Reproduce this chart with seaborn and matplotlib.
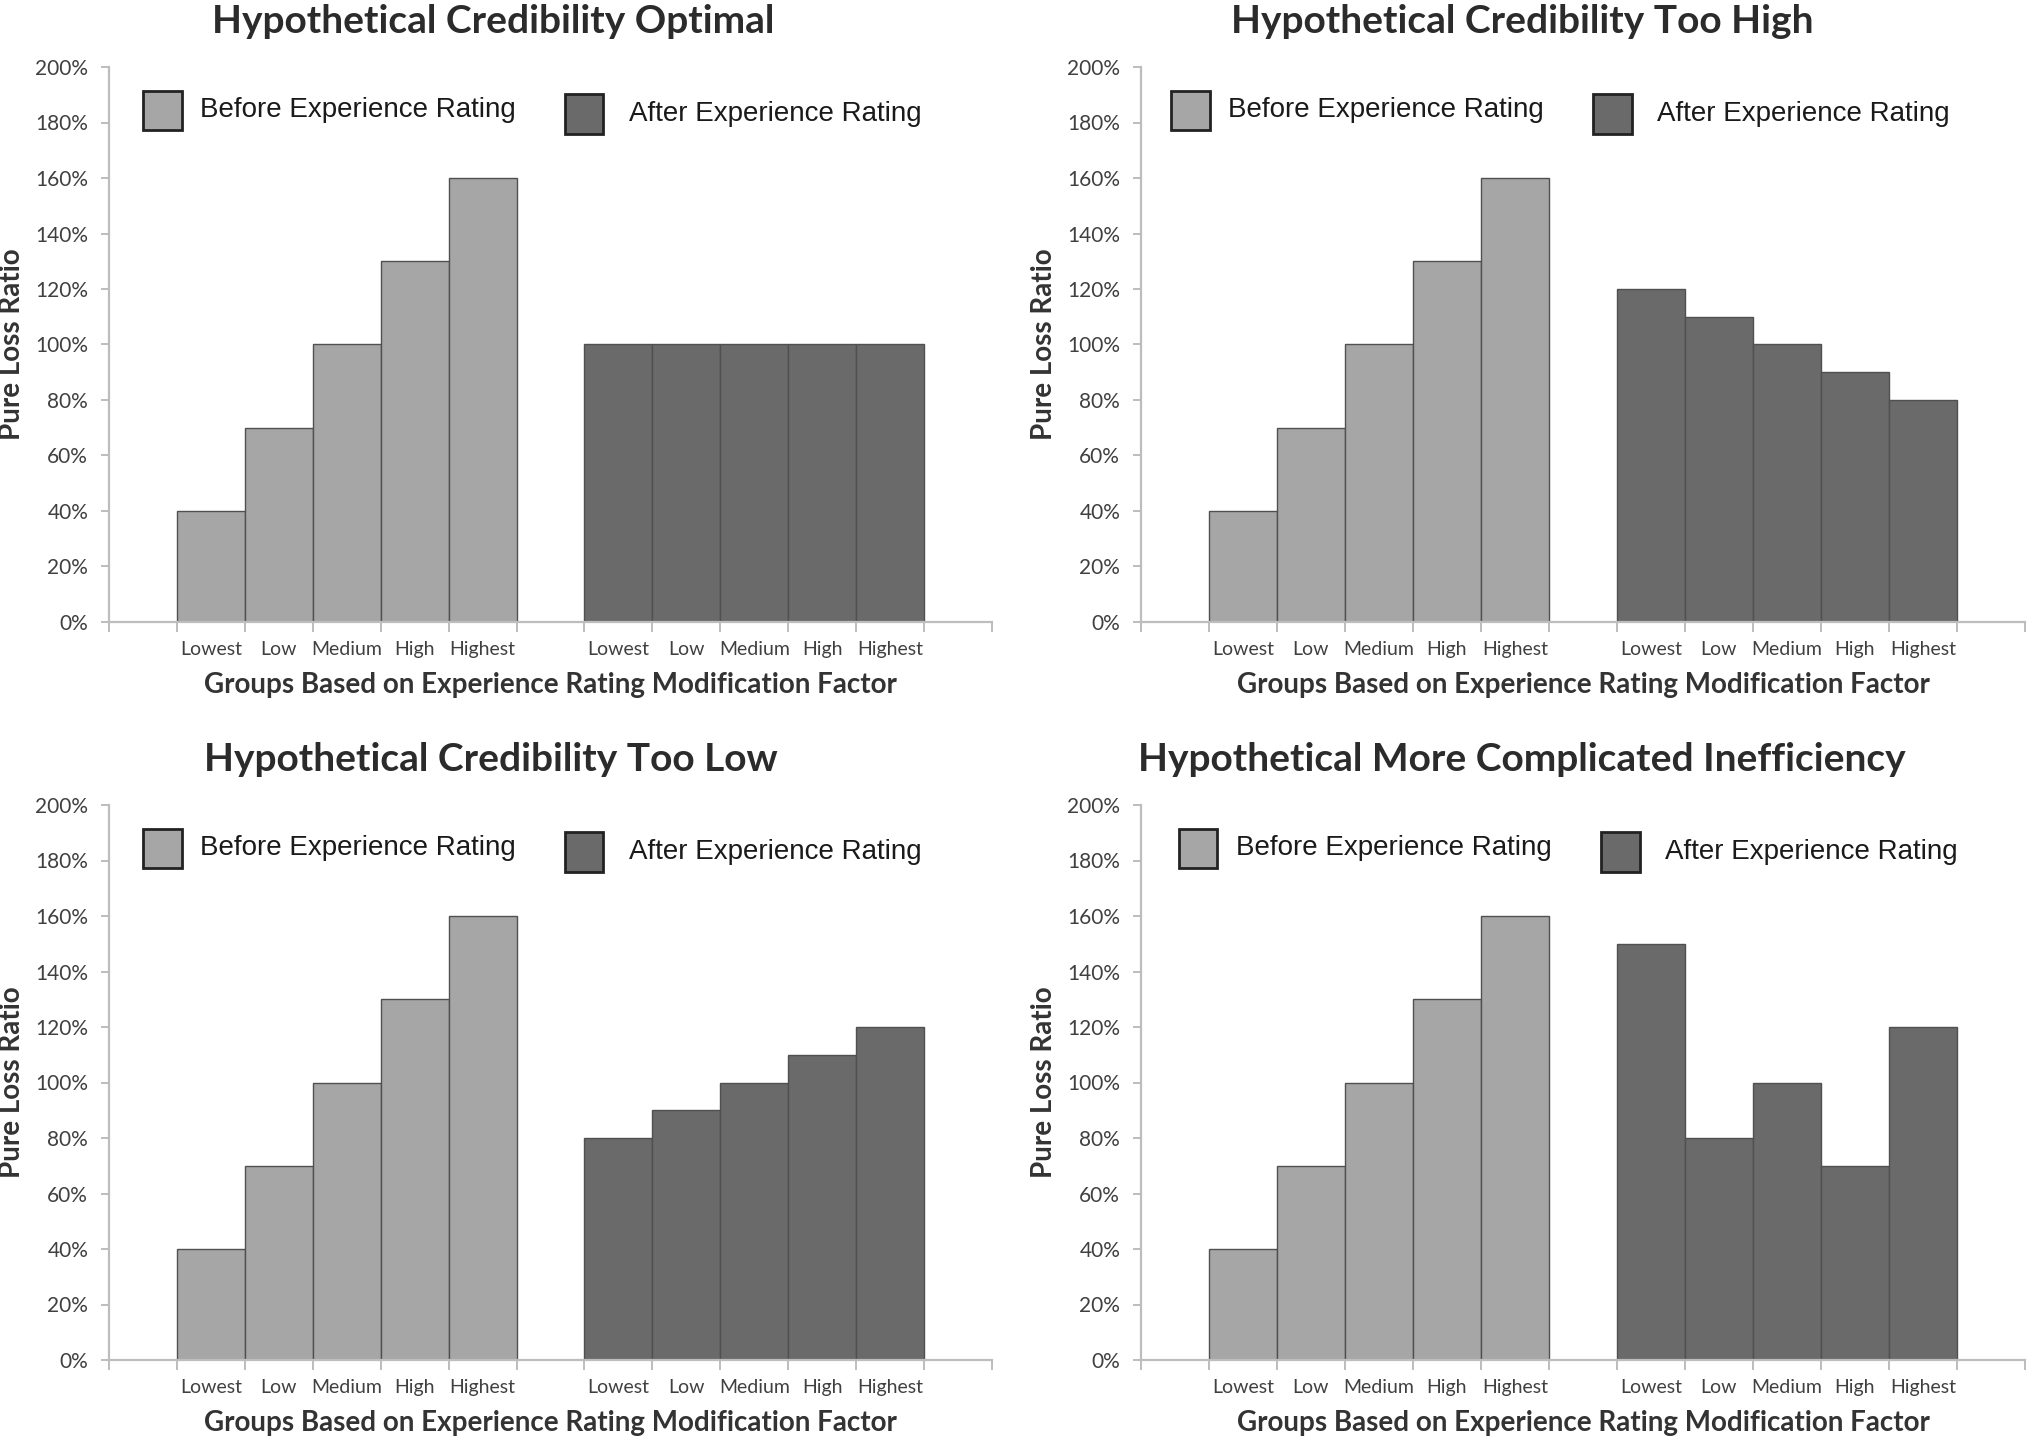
import matplotlib
matplotlib.use("Agg")
import matplotlib.pyplot as plt
import seaborn as sns
import pandas as pd
import numpy as np
from matplotlib.patches import Rectangle
from matplotlib.ticker import FuncFormatter, FixedLocator

# ---------------- data ----------------
groups = ["Lowest", "Low", "Medium", "High", "Highest"]
before_pos = [1, 2, 3, 4, 5]
after_pos = [7, 8, 9, 10, 11]
before_vals = [0.40, 0.70, 1.00, 1.30, 1.60]
after_optimal = [1.00, 1.00, 1.00, 1.00, 1.00]
after_too_high = [1.20, 1.10, 1.00, 0.90, 0.80]
after_too_low = [0.80, 0.90, 1.00, 1.10, 1.20]
after_complicated = [1.50, 0.80, 1.00, 0.70, 1.20]
titles = ["Hypothetical Credibility Optimal", "Hypothetical Credibility Too High",
          "Hypothetical Credibility Too Low", "Hypothetical More Complicated Inefficiency"]
series_after = [after_optimal, after_too_high, after_too_low, after_complicated]
stages = ["Before Experience Rating", "After Experience Rating"]
y_ticks = [0, 0.2, 0.4, 0.6, 0.8, 1.0, 1.2, 1.4, 1.6, 1.8, 2.0]

LIGHT = "#a6a6a6"
DARK = "#6a6a6a"
EDGE = "#505050"
AXC = "#bdbdbd"
TXT = "#404040"

sns.set_theme(style="white")
plt.rcParams["font.family"] = ["Lato", "DejaVu Sans"]

W, H = 2029, 1437
fig = plt.figure(figsize=(W / 100, H / 100), dpi=100)
fig.patch.set_facecolor("white")

# axes rectangles in pixels: (x0, x1, ytop, ybottom)
rects = [(109, 992, 67, 622), (1141, 2025, 67, 622),
         (109, 992, 805, 1360), (1141, 2025, 805, 1360)]
title_x = [0.435, 0.431, 0.433, 0.431]
legend_dx = [0.0, -0.005, 0.0, 0.004]

for i, (x0, x1, yt, yb) in enumerate(rects):
    ax = fig.add_axes([x0 / W, 1 - yb / H, (x1 - x0) / W, (yb - yt) / H])
    df = pd.DataFrame({
        "pos": before_pos + after_pos,
        "value": before_vals + series_after[i],
        "stage": [stages[0]] * 5 + [stages[1]] * 5,
    })
    sns.barplot(data=df, x="pos", y="value", hue="stage", native_scale=True,
                palette={stages[0]: LIGHT, stages[1]: DARK}, dodge=False,
                width=1.0, edgecolor=EDGE, linewidth=1.0, legend=False,
                saturation=1, ax=ax, zorder=2)
    ax.set_xlim(-0.5, 12.5)
    ax.set_ylim(0, 2.0)
    ax.set_facecolor("white")
    for s in ["top", "right"]:
        ax.spines[s].set_visible(False)
    for s in ["left", "bottom"]:
        ax.spines[s].set_color(AXC)
        ax.spines[s].set_linewidth(1.6)
    ax.yaxis.set_major_locator(FixedLocator(y_ticks))
    ax.yaxis.set_major_formatter(FuncFormatter(lambda v, p: f"{int(round(v * 100))}%"))
    ax.tick_params(axis="y", which="major", left=True, length=6, width=1.4,
                   color=AXC, labelsize=15, labelcolor=TXT, pad=9)
    ax.set_xticks(before_pos + after_pos)
    ax.set_xticklabels(groups + groups)
    ax.set_xticks(np.arange(-0.5, 13.0, 1.0), minor=True)
    ax.tick_params(axis="x", which="major", length=0, labelsize=14, labelcolor=TXT, pad=14)
    ax.tick_params(axis="x", which="minor", bottom=True, length=7, width=1.4, color=AXC)
    ax.set_xlabel("Groups Based on Experience Rating Modification Factor",
                  fontsize=20, fontweight="bold", color="#333333", labelpad=10)
    ax.set_ylabel("Pure Loss Ratio", fontsize=20, fontweight="bold", color="#333333")
    ax.yaxis.set_label_coords(-0.095, 0.5)
    ax.text(title_x[i], 1.082, titles[i], transform=ax.transAxes, ha="center",
            va="center", fontsize=28, fontweight="bold", color="#2b2b2b")
    # legend drawn as keys + labels
    dx = legend_dx[i]
    ax.add_patch(Rectangle((0.0385 + dx, 0.886), 0.044, 0.071, transform=ax.transAxes,
                           facecolor=LIGHT, edgecolor="#222222", linewidth=2.0,
                           clip_on=False, zorder=5))
    ax.text(0.103 + dx, 0.922, stages[0], transform=ax.transAxes, ha="left", va="center",
            fontsize=20, color="#1a1a1a", family=["Liberation Sans", "DejaVu Sans"])
    ax.add_patch(Rectangle((0.516 + dx, 0.880), 0.044, 0.071, transform=ax.transAxes,
                           facecolor=DARK, edgecolor="#222222", linewidth=2.0,
                           clip_on=False, zorder=5))
    ax.text(0.589 + dx, 0.916, stages[1], transform=ax.transAxes, ha="left", va="center",
            fontsize=20, color="#1a1a1a", family=["Liberation Sans", "DejaVu Sans"])

fig.savefig("out.png", dpi=100, facecolor="white")
